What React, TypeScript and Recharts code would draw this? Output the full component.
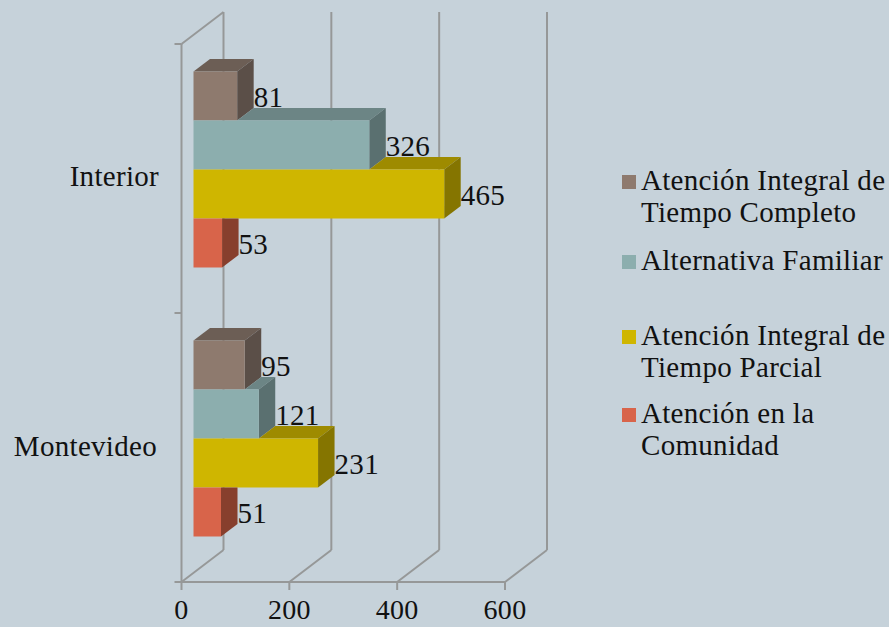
import { BarChart, Bar, XAxis, YAxis, CartesianGrid, LabelList, Legend } from "recharts";

const CATEGORIES = ["Interior", "Montevideo"];
const COMPLETO = [81, 95];
const FAMILIAR = [326, 121];
const PARCIAL = [465, 231];
const COMUNIDAD = [53, 51];
const X_TICKS = [0, 200, 400, 600];

const SERIES_NAMES = [
  "Atención Integral de Tiempo Completo",
  "Alternativa Familiar",
  "Atención Integral de Tiempo Parcial",
  "Atención en la Comunidad",
];

const chartData = CATEGORIES.map((name, i) => ({
  name,
  completo: COMPLETO[i],
  familiar: FAMILIAR[i],
  parcial: PARCIAL[i],
  comunidad: COMUNIDAD[i],
}));

const KEYS = ["completo", "familiar", "parcial", "comunidad"];
const FACES = [
  { front: "#8e7a6e", top: "#6c5e55", side: "#5b4f48" },
  { front: "#8caeae", top: "#6c8585", side: "#5a7070" },
  { front: "#cfb600", top: "#9e8b00", side: "#857500" },
  { front: "#d8644a", top: "#a04c38", side: "#873f2d" },
];

const BG = "#c6d2da";
const GRID = "#969898";
const LINE_W = 2;
const TEXT = "#111";
const FONT = "'Liberation Serif', serif";
const FONT_SIZE = 29;
const SPACING = 0.3;

// 3d look: bars sit a bit off the axis, depth goes up and to the right
const SHIFT_X = 12;
const SHIFT_Y = -9.5;
const DEPTH_X = 16.5;
const DEPTH_Y = 12.5;
const WALL_X = 42;
const WALL_Y = 32;
const BAND = 269;

const LEGEND_TOPS = [164, 244, 319, 397];

const pts = (list: number[][]) => list.map((p) => p.join(",")).join(" ");

// lower bars would paint over the ones above them, so only the visible part of each face is drawn
const boxShape = (i: number) => (p: any) => {
  const left = p.x + SHIFT_X;
  const top = p.y + SHIFT_Y;
  const right = left + p.width;
  const bottom = top + p.height;
  const face = FACES[i];
  const upperRight =
    i > 0 ? left + (p.width / p.payload[KEYS[i]]) * p.payload[KEYS[i - 1]] : left;
  const hidden = right <= upperRight && i > 0;
  return (
    <g>
      {!hidden && (
        <polygon
          fill={face.top}
          points={pts([
            [upperRight, top],
            [right, top],
            [right + DEPTH_X, top - DEPTH_Y],
            [upperRight + DEPTH_X, top - DEPTH_Y],
          ])}
        />
      )}
      <polygon
        fill={face.side}
        points={
          hidden
            ? pts([
                [right, top],
                [right + DEPTH_X, top],
                [right + DEPTH_X, bottom - DEPTH_Y],
                [right, bottom],
              ])
            : pts([
                [right, top],
                [right + DEPTH_X, top - DEPTH_Y],
                [right + DEPTH_X, bottom - DEPTH_Y],
                [right, bottom],
              ])
        }
      />
      <rect x={left} y={top} width={p.width} height={p.height} fill={face.front} />
    </g>
  );
};

function ValueLabel({ x, y, width, height, value }: any) {
  return (
    <text
      x={x + width + SHIFT_X + DEPTH_X}
      y={y + SHIFT_Y + height / 2 + 4}
      fontFamily={FONT}
      fontSize={FONT_SIZE}
      letterSpacing={SPACING}
      fill={TEXT}
      dominantBaseline="middle"
    >
      {value}
    </text>
  );
}

function WallLine({ x1, y1, y2, index }: any) {
  const bx = x1 + WALL_X;
  return (
    <g stroke={GRID} strokeWidth={LINE_W} fill="none">
      <line x1={x1} y1={y2} x2={bx} y2={y2 - WALL_Y} />
      <line x1={bx} y1={y2 - WALL_Y} x2={bx} y2={y1 - WALL_Y} />
      {index === 0 && <line x1={x1} y1={y1} x2={bx} y2={y1 - WALL_Y} />}
    </g>
  );
}

function CategoryTick({ x, y, payload, index }: any) {
  const axisX = x + 8;
  return (
    <g>
      <line x1={axisX - 7} y1={y - BAND / 2} x2={axisX} y2={y - BAND / 2} stroke={GRID} strokeWidth={LINE_W} />
      {index === CATEGORIES.length - 1 && (
        <line x1={axisX - 7} y1={y + BAND / 2} x2={axisX} y2={y + BAND / 2} stroke={GRID} strokeWidth={LINE_W} />
      )}
      <text
        x={index === 0 ? 159 : 157}
        y={y + (index === 0 ? 1 : 2)}
        textAnchor="end"
        dominantBaseline="middle"
        fontFamily={FONT}
        fontSize={FONT_SIZE}
        letterSpacing={SPACING}
        fill={TEXT}
      >
        {payload.value}
      </text>
    </g>
  );
}

function LegendBox({ payload }: any) {
  return (
    <div style={{ position: "relative", width: 889, height: 627, fontFamily: FONT, color: TEXT }}>
      {(payload || []).map((entry: any, i: number) => (
        <div key={entry.value} style={{ position: "absolute", left: 622, top: LEGEND_TOPS[i] }}>
          <span
            style={{
              position: "absolute",
              left: 0,
              top: 11,
              width: 14,
              height: 14,
              background: FACES[i].front,
            }}
          />
          <div
            style={{
              marginLeft: 19,
              width: 248,
              fontSize: FONT_SIZE,
              letterSpacing: SPACING,
              lineHeight: "32px",
              whiteSpace: "normal",
            }}
          >
            {entry.value}
          </div>
        </div>
      ))}
    </div>
  );
}

export default function App() {
  return (
    <div style={{ position: "absolute", left: 0, top: 0, width: 889, height: 627, background: BG, overflow: "hidden" }}>
      <BarChart
        width={889}
        height={627}
        data={chartData}
        layout="vertical"
        barSize={49}
        barGap={0}
        margin={{ top: 44, right: 384, bottom: 0, left: 0 }}
      >
        <CartesianGrid horizontal={false} vertical={(props: any) => <WallLine key={props.key} {...props} />} />
        <XAxis
          type="number"
          domain={[0, 600]}
          ticks={X_TICKS}
          height={45}
          tickSize={8}
          tickMargin={9}
          interval={0}
          axisLine={{ stroke: GRID, strokeWidth: LINE_W }}
          tickLine={{ stroke: GRID, strokeWidth: LINE_W }}
          tick={{ fontFamily: FONT, fontSize: 28, fill: TEXT, letterSpacing: SPACING }}
        />
        <YAxis
          type="category"
          dataKey="name"
          width={181.5}
          axisLine={{ stroke: GRID, strokeWidth: LINE_W }}
          tickLine={false}
          tick={CategoryTick}
        />
        <Legend
          layout="vertical"
          align="center"
          verticalAlign="middle"
          itemSorter={null}
          wrapperStyle={{ left: 0, top: 0, width: 889, height: 627, pointerEvents: "none" }}
          content={LegendBox}
        />
        {KEYS.map((key, i) => (
          <Bar
            key={key}
            dataKey={key}
            name={SERIES_NAMES[i]}
            fill={FACES[i].front}
            shape={boxShape(i)}
            isAnimationActive={false}
          >
            <LabelList dataKey={key} content={ValueLabel} />
          </Bar>
        ))}
      </BarChart>
    </div>
  );
}
